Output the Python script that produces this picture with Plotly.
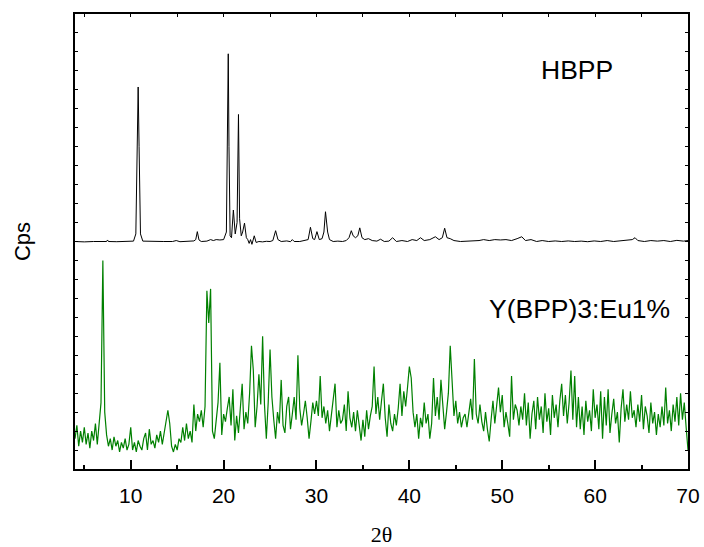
import numpy as np
import plotly.graph_objects as go

# ---------------- data ----------------
two_theta_start = 4.0
two_theta_step = 0.2

# Y(BPP)3:Eu1% (green), one value every 0.2 deg from 4.0 to 70.0
eu_counts = [
    1.6, 2.3, 1.2, 2.0, 1.4,   # 4
    2.2, 1.3, 1.9, 1.1, 2.0,   # 5
    1.5, 2.4, 1.3, 2.6, 3.5,   # 6
    11.0, 3.0, 1.8, 1.2, 1.6,  # 7
    1.0, 1.7, 1.2, 1.5, 0.9,   # 8
    1.4, 1.1, 1.6, 1.0, 1.3,   # 9
    2.2, 1.0, 1.4, 0.9, 1.5,   # 10
    1.2, 1.0, 1.6, 1.9, 1.0,   # 11
    2.1, 1.3, 1.5, 1.1, 1.8,   # 12
    1.4, 2.0, 1.3, 1.9, 2.6,   # 13
    3.1, 2.4, 1.2, 0.9, 1.3,   # 14
    1.0, 1.6, 1.4, 2.2, 1.5,   # 15
    2.4, 1.6, 2.0, 1.4, 3.4,   # 16
    2.0, 2.9, 2.5, 3.1, 2.2,   # 17
    3.3, 9.4, 7.7, 9.5, 2.0,   # 18
    1.6, 2.6, 3.5, 5.6, 1.8,   # 19
    2.9, 2.5, 3.2, 3.8, 2.3,   # 20
    4.2, 1.5, 2.8, 1.9, 3.0,   # 21
    4.5, 2.1, 3.0, 2.4, 4.0,   # 22
    6.5, 5.2, 2.2, 3.3, 5.0,   # 23
    3.4, 7.0, 3.4, 1.6, 3.5,   # 24
    6.3, 3.8, 2.6, 1.6, 3.0,   # 25
    2.4, 4.7, 2.3, 1.9, 3.3,   # 26
    3.8, 2.1, 2.9, 3.8, 2.6,   # 27
    6.0, 3.2, 2.3, 2.9, 3.6,   # 28
    2.7, 1.6, 2.5, 3.5, 2.9,   # 29
    3.6, 2.8, 4.9, 2.7, 3.3,   # 30
    2.4, 3.1, 2.0, 2.8, 3.4,   # 31
    4.5, 2.2, 3.1, 2.4, 2.6,   # 32
    3.4, 2.0, 4.1, 2.7, 2.2,   # 33
    3.0, 2.0, 3.1, 2.3, 1.5,   # 34
    2.6, 1.7, 3.1, 2.1, 2.8,   # 35
    3.3, 5.4, 2.9, 3.8, 2.6,   # 36
    3.6, 4.5, 2.7, 1.7, 3.4,   # 37
    2.4, 2.0, 2.9, 2.3, 3.2,   # 38
    4.5, 2.8, 4.1, 3.3, 4.3,   # 39
    5.4, 4.8, 3.0, 2.2, 2.9,   # 40
    1.6, 2.7, 2.2, 3.5, 2.4,   # 41
    2.9, 1.6, 2.4, 4.8, 2.8,   # 42
    3.8, 2.6, 4.7, 3.2, 2.1,   # 43
    3.0, 4.0, 6.5, 4.8, 2.8,   # 44
    3.6, 2.4, 3.0, 2.2, 2.7,   # 45
    2.9, 2.2, 3.1, 3.7, 2.6,   # 46
    5.8, 2.9, 2.4, 3.4, 2.5,   # 47
    2.0, 3.0, 2.1, 1.45, 2.6,  # 48
    3.6, 2.4, 3.3, 4.3, 3.0,   # 49
    3.9, 2.2, 3.0, 2.4, 1.7,   # 50
    4.9, 2.6, 3.4, 3.1, 2.3,   # 51
    3.3, 2.6, 4.0, 2.3, 3.5,   # 52
    1.6, 2.9, 3.6, 2.1, 3.8,   # 53
    2.6, 3.3, 1.9, 4.0, 2.5,   # 54
    3.2, 1.8, 3.9, 2.7, 3.4,   # 55
    2.2, 3.6, 4.5, 2.8, 3.9,   # 56
    2.4, 3.5, 5.2, 2.6, 4.9,   # 57
    2.2, 3.8, 2.1, 3.3, 1.8,   # 58
    3.6, 2.5, 3.1, 2.0, 4.2,   # 59
    2.7, 3.4, 2.1, 4.1, 1.6,   # 60
    3.8, 2.3, 4.2, 1.9, 2.9,   # 61
    3.7, 2.4, 3.0, 1.4, 3.2,   # 62
    4.2, 2.5, 3.4, 2.6, 4.1,   # 63
    2.7, 3.1, 2.2, 3.4, 2.5,   # 64
    3.9, 2.1, 3.3, 2.8, 1.9,   # 65
    3.5, 2.4, 3.0, 1.8, 2.9,   # 66
    2.2, 3.3, 2.3, 4.3, 2.4,   # 67
    3.1, 2.0, 3.4, 2.5, 3.8,   # 68
    2.3, 4.0, 2.6, 3.5, 2.2,   # 69
    1.0,                       # 70
]
eu_angles = [round(two_theta_start + i * two_theta_step, 2) for i in range(len(eu_counts))]

# HBPP (black), sampled points (angle, intensity)
hbpp_angles = [
    4.0, 5.0, 6.0, 7.0, 7.4, 7.5, 7.6, 8.5, 9.5, 10.3, 10.55, 10.7, 10.8, 10.9, 11.05, 11.3,
    12.5, 13.5, 14.5, 14.9, 15.3, 16.0, 16.8, 17.0, 17.17, 17.35, 17.6, 18.2, 18.6, 18.9,
    19.2, 19.6, 20.0, 20.3, 20.42, 20.5, 20.58, 20.7, 20.85, 21.05, 21.25, 21.45, 21.6,
    21.72, 21.9, 22.05, 22.25, 22.45, 22.6, 22.75, 22.9, 23.05, 23.3, 23.5, 23.8, 24.2,
    24.6, 25.0, 25.3, 25.6, 25.85, 26.2, 26.8, 27.2, 27.4, 27.6, 28.2, 28.8, 29.1, 29.35,
    29.6, 29.8, 30.05, 30.3, 30.6, 30.8, 30.97, 31.2, 31.4, 31.8, 32.3, 32.8, 33.2, 33.5,
    33.75, 33.95, 34.2, 34.45, 34.66, 34.9, 35.2, 35.6, 36.0, 36.5, 36.9, 37.3, 37.8, 38.2,
    38.6, 39.2, 39.8, 40.3, 40.8, 41.2, 41.6, 42.2, 42.8, 43.2, 43.55, 43.8, 44.05, 44.4,
    44.8, 45.5, 46.2, 46.8, 47.5, 48.0, 48.6, 49.2, 49.8, 50.4, 51.0, 51.6, 52.1, 52.5,
    53.1, 53.7, 54.3, 55.0, 55.7, 56.4, 57.1, 57.8, 58.5, 59.2, 59.9, 60.6, 61.3, 62.0,
    62.7, 63.4, 64.0, 64.3, 64.6, 65.3, 66.0, 66.7, 67.4, 68.1, 68.8, 69.5, 70.0,
]
hbpp_counts = [
    12.0, 11.98, 12.0, 11.98, 12.0, 12.08, 12.0, 11.99, 12.0, 12.02, 12.4, 17.0, 20.15, 17.0, 12.4, 12.02,
    11.99, 12.0, 12.0, 12.05, 11.99, 12.02, 12.03, 12.1, 12.52, 12.08, 12.0, 12.02, 12.1, 12.05,
    12.1, 12.08, 12.1, 12.5, 17.0, 21.9, 17.0, 12.3, 12.2, 13.66, 12.4, 13.0, 18.7,
    13.2, 12.3, 12.5, 12.97, 12.2, 12.1, 11.9, 12.1, 11.85, 12.3, 11.95, 12.0, 11.98,
    12.01, 12.0, 12.05, 12.57, 12.1, 12.0, 12.03, 11.99, 12.1, 12.0, 12.0, 12.05, 12.1, 12.75,
    12.15, 12.1, 12.52, 12.1, 12.15, 12.5, 13.57, 12.5, 12.1, 12.0, 12.02, 12.0, 12.05, 12.2,
    12.57, 12.3, 12.2, 12.3, 12.72, 12.2, 12.1, 12.15, 12.05, 12.02, 12.12, 12.0, 12.02, 12.2,
    12.0, 12.05, 12.0, 12.1, 12.05, 12.2, 12.05, 12.1, 12.25, 12.1, 12.2, 12.7, 12.2, 12.15,
    12.05, 12.0, 12.02, 12.0, 12.05, 12.1, 12.05, 12.1, 12.08, 12.1, 12.05, 12.15, 12.25, 12.05,
    12.1, 12.0, 12.05, 12.0, 12.03, 12.0, 12.03, 12.0, 12.02, 11.99, 12.03, 12.0, 12.05, 12.0,
    12.03, 12.05, 12.1, 12.2, 12.05, 12.0, 12.05, 12.02, 12.05, 12.0, 12.06, 12.02, 12.05,
]

x_range = [4, 70]
y_range = [0, 24]
x_tick_vals = [10, 20, 30, 40, 50, 60, 70]
labels = ["HBPP", "Y(BPP)3:Eu1%"]
label_pos = [(58.1, 21.05), (58.3, 8.44)]

FONT = "Arial, 'Liberation Sans', Helvetica, sans-serif"

fig = go.Figure()
fig.add_trace(go.Scatter(x=hbpp_angles, y=hbpp_counts, mode="lines",
                         line=dict(color="black", width=1), showlegend=False))
fig.add_trace(go.Scatter(x=eu_angles, y=eu_counts, mode="lines",
                         line=dict(color="#008000", width=1.2), showlegend=False))
# invisible trace to anchor the top axis
fig.add_trace(go.Scatter(x=x_range, y=[None, None], xaxis="x2", mode="lines",
                         showlegend=False, hoverinfo="skip"))

for text, (ax_, ay_) in zip(labels, label_pos):
    fig.add_annotation(x=ax_, y=ay_, text=text, showarrow=False,
                       font=dict(family=FONT, size=26.5, color="black"),
                       xanchor="center", yanchor="middle")

fig.update_layout(
    width=704, height=547,
    margin=dict(l=75, r=16, t=14, b=78, autoexpand=False),
    paper_bgcolor="white", plot_bgcolor="white",
    font=dict(family=FONT, color="black"),
    xaxis=dict(
        range=x_range, tickvals=x_tick_vals, ticks="inside", ticklen=9, tickwidth=1.5,
        tickcolor="black", showline=True, linecolor="black", linewidth=2,
        showgrid=False, zeroline=False, mirror=False, automargin=False,
        ticklabelstandoff=7, ticklabeloverflow="allow",
        tickfont=dict(family=FONT, size=21, color="black"),
        minor=dict(dtick=5, tick0=0, ticks="inside", ticklen=4, tickwidth=1.5, tickcolor="black"),
        title=dict(text="2θ", font=dict(family="'Times New Roman', 'Liberation Serif', serif", size=22), standoff=25),
    ),
    xaxis2=dict(
        range=x_range, overlaying="x", side="top", anchor="y",
        dtick=5, tick0=0, ticks="inside", ticklen=3, tickwidth=1.2, tickcolor="black",
        showticklabels=False, showline=True, linecolor="black", linewidth=2,
        showgrid=False, zeroline=False, automargin=False,
    ),
    yaxis=dict(
        range=y_range, dtick=1, tick0=0, ticks="inside", ticklen=3, tickwidth=1.2,
        tickcolor="black", showticklabels=False, showline=True, linecolor="black",
        linewidth=2, mirror="ticks", showgrid=False, zeroline=False, automargin=False,
        title=dict(text="Cps", font=dict(family=FONT, size=22), standoff=36),
    ),
)

fig.write_html("out.html")
